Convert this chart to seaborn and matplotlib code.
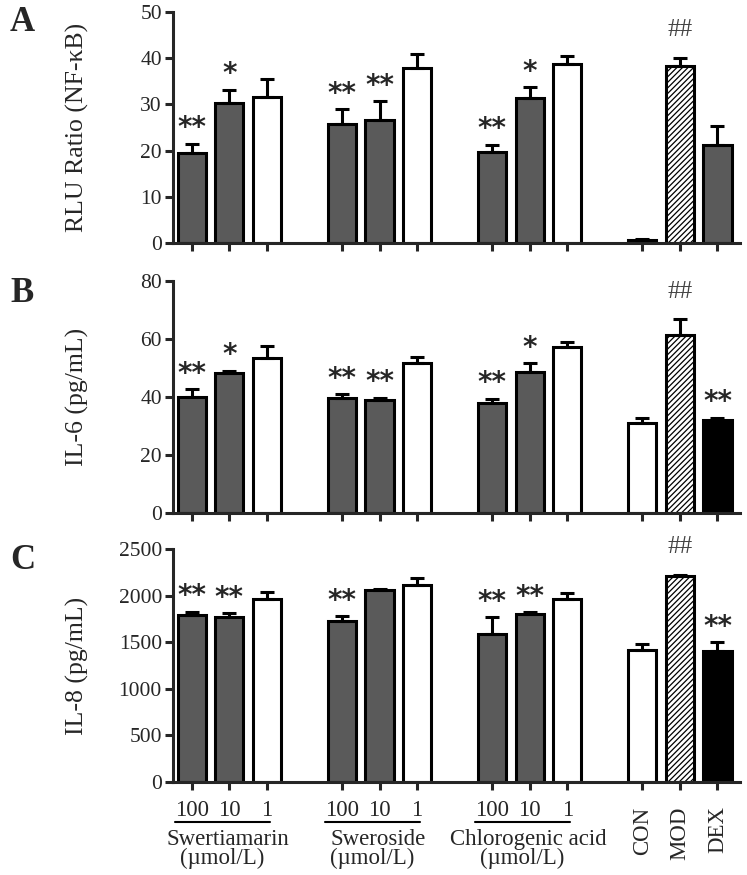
import numpy as np
import pandas as pd
import matplotlib
matplotlib.use("Agg")
import matplotlib.pyplot as plt
import seaborn as sns

# x positions of the bars (gaps between groups)
positions = [0, 1, 2, 4, 5, 6, 8, 9, 10, 12, 13, 14]
doses = ["100", "10", "1"]
compounds = ["Swertiamarin", "Sweroside", "Chlorogenic acid"]
controls = ["CON", "MOD", "DEX"]

# A: NF-kB luciferase
nfkb_mean = [19.5, 30.4, 31.5, 25.8, 26.6, 37.9, 19.6, 31.4, 38.8, 0.6, 38.4, 21.3]
nfkb_err = [2.0, 2.8, 4.0, 3.1, 4.1, 3.0, 1.7, 2.3, 1.6, 0.3, 1.7, 4.1]
nfkb_sig = ["**", "*", "", "**", "**", "", "**", "*", "", "", "##", ""]

# B: IL-6
il6_mean = [40.0, 48.2, 53.6, 39.6, 39.0, 51.8, 37.9, 48.6, 57.2, 31.0, 61.4, 32.0]
il6_err = [2.6, 0.8, 3.9, 1.4, 0.8, 2.0, 1.5, 3.0, 1.6, 1.7, 5.4, 0.8]
il6_sig = ["**", "*", "", "**", "**", "", "**", "*", "", "", "##", "**"]

# C: IL-8
il8_mean = [1790, 1770, 1965, 1727, 2060, 2110, 1585, 1803, 1965, 1415, 2205, 1405]
il8_err = [35, 40, 75, 55, 15, 75, 180, 20, 60, 65, 20, 95]
il8_sig = ["**", "**", "", "**", "", "", "**", "**", "", "", "##", "**"]

GRAY = "#5a5a5a"
HATCH = "hatch"
fills_a = [GRAY, GRAY, "white"] * 3 + ["white", HATCH, GRAY]
fills_bc = [GRAY, GRAY, "white"] * 3 + ["white", HATCH, "black"]

sns.set_style("ticks")
plt.rcParams["font.family"] = ["Liberation Serif", "DejaVu Serif"]
plt.rcParams["hatch.linewidth"] = 0.9
plt.rcParams["axes.linewidth"] = 2.2


def draw_panel(ax, means, errs, fills, marks, ymax, ystep, ylabel):
    df = pd.DataFrame({"pos": positions, "value": means})
    sns.barplot(data=df, x="pos", y="value", native_scale=True, width=0.75,
                color="white", edgecolor="black", linewidth=2.2,
                errorbar=None, ax=ax)
    for patch, fill in zip(ax.patches, fills):
        patch.set_edgecolor("black")
        if fill == HATCH:
            patch.set_facecolor("white")
            patch.set_hatch("//////")
        else:
            patch.set_facecolor(fill)
    ax.errorbar(positions, means, yerr=[np.zeros(len(errs)), errs], fmt="none",
                ecolor="black", elinewidth=2.2, capsize=5, capthick=2.2, zorder=3)
    for x, m, e, s in zip(positions, means, errs, marks):
        if not s:
            continue
        if s == "##":
            ax.annotate(s, (x, m + e), xytext=(0, 12), textcoords="offset points",
                        ha="center", va="bottom", fontsize=18, color="#444444",
                        annotation_clip=False)
        else:
            ax.annotate(s, (x, m + e), xytext=(0, 1), textcoords="offset points",
                        ha="center", va="bottom", fontsize=20, fontweight="bold",
                        family="DejaVu Sans", annotation_clip=False)
    ax.set_xlim(-0.5, 14.6)
    ax.set_ylim(0, ymax)
    ax.set_yticks(np.arange(0, ymax + ystep / 2, ystep))
    ax.set_xticks(positions)
    ax.set_xticklabels([])
    ax.set_xlabel("")
    ax.set_ylabel(ylabel, fontsize=18.5)
    ax.yaxis.set_label_coords(-0.148, 0.5)
    ax.tick_params(axis="both", direction="out", length=6, width=2.2, labelsize=15.5, pad=2)
    sns.despine(ax=ax)


fig = plt.figure(figsize=(7.47, 8.75), dpi=100)
ax_a = fig.add_axes([0.2316, 0.7223, 0.759, 0.264])
ax_b = fig.add_axes([0.2316, 0.4137, 0.759, 0.2652])
ax_c = fig.add_axes([0.2316, 0.1063, 0.759, 0.2663])

draw_panel(ax_a, nfkb_mean, nfkb_err, fills_a, nfkb_sig, 50, 10, "RLU Ratio (NF-κB)")
draw_panel(ax_b, il6_mean, il6_err, fills_bc, il6_sig, 80, 20, "IL-6 (pg/mL)")
draw_panel(ax_c, il8_mean, il8_err, fills_bc, il8_sig, 2500, 500, "IL-8 (pg/mL)")

for label, y in zip(["A", "B", "C"], [0.974, 0.664, 0.359]):
    fig.text(0.03, y, label, fontsize=25, fontweight="bold", va="center", ha="center")

# group labels under panel C
tr = ax_c.get_xaxis_transform()
for g, name in enumerate(compounds):
    start = positions[g * 3]
    for k, d in enumerate(doses):
        ax_c.text(positions[g * 3 + k], -0.124, d, transform=tr, ha="center",
                  va="center", fontsize=16.5)
    ax_c.plot([start - 0.45, start + 2.08], [-0.172, -0.172], transform=tr,
              color="black", lw=1.5, clip_on=False)
    ax_c.text(start + 0.95, -0.245, name, transform=tr, ha="center",
              va="center", fontsize=16.5)
    ax_c.text(start + 0.8, -0.33, "(µmol/L)", transform=tr, ha="center",
              va="center", fontsize=16.5)
for k, name in enumerate(controls):
    ax_c.text(positions[9 + k], -0.105, name, transform=tr, ha="center",
              va="top", rotation=90, fontsize=16.5)

fig.savefig("out.png", dpi=100)
